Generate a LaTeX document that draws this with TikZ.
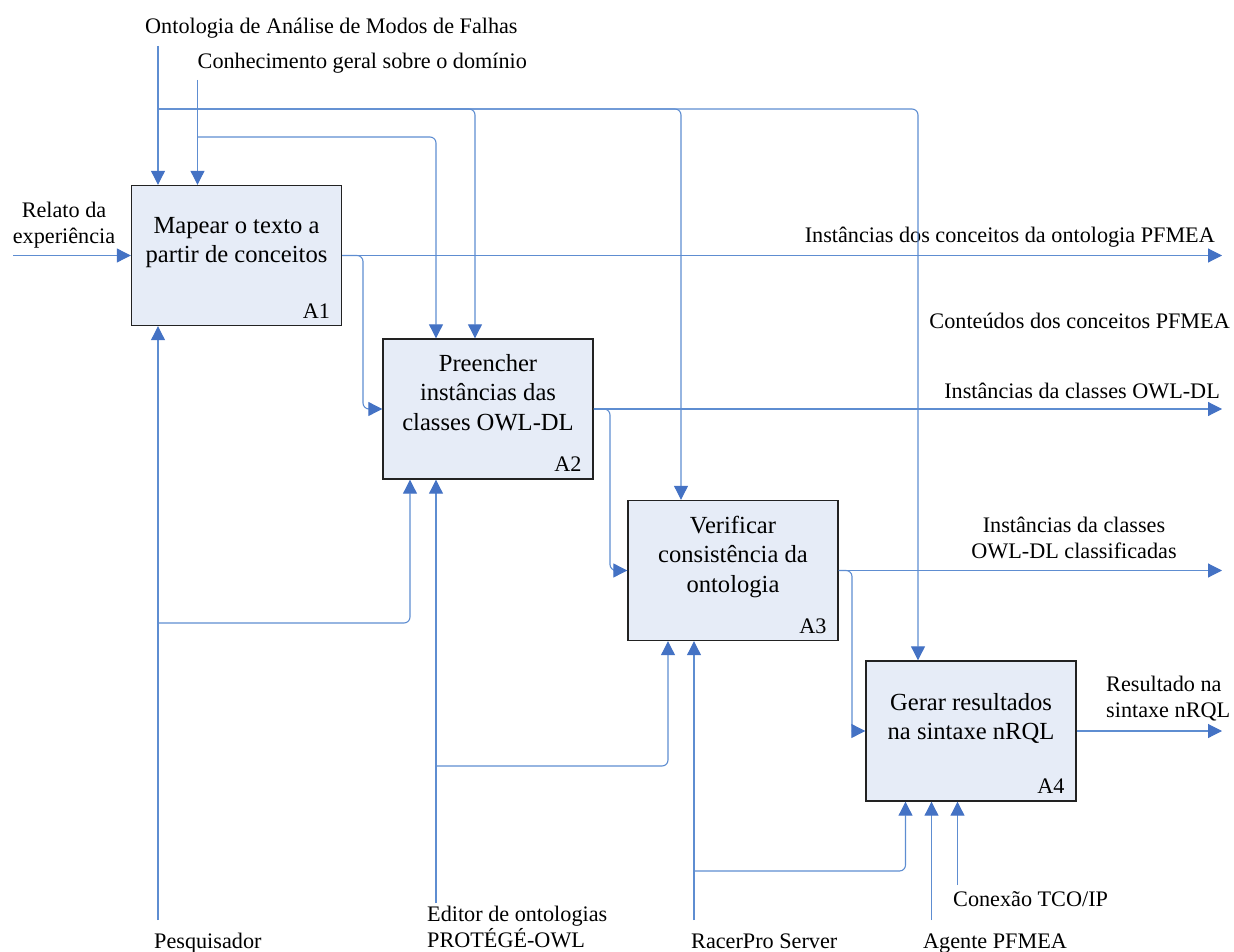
\documentclass[tikz,border=0pt]{standalone}
\usepackage{fontspec}
\setmainfont{Liberation Serif}
\usetikzlibrary{arrows.meta}
\definecolor{flowblue}{HTML}{5E8DD1}
\definecolor{tipblue}{HTML}{4472C4}
\definecolor{boxfill}{HTML}{E6ECF7}
\definecolor{boxline}{HTML}{222222}
\begin{document}
\begin{tikzpicture}[x=1pt,y=-1pt,
  flow/.style={draw=flowblue, line width=1.1pt, rounded corners=6pt,
    -{Triangle[length=14pt,width=14pt,color=tipblue,fill=tipblue]}},
  proc/.style={draw=boxline, fill=boxfill, line width=1.4pt,
    minimum width=210pt, minimum height=140pt, inner sep=0pt},
  boxtext/.style={font=\fontsize{24.6}{29.5}\selectfont, align=center, inner sep=0pt},
  lbl/.style={font=\fontsize{22.2}{26}\selectfont, inner sep=0pt},
  tag/.style={font=\fontsize{22.2}{26}\selectfont, inner sep=0pt, anchor=base east},
]
\useasboundingbox (0,0) rectangle (1234,952);

% boxes
\node[proc] (A1) at (236.5,255.5) {};
\node[proc] (A2) at (488,409) {};
\node[proc] (A3) at (733,570.5) {};
\node[proc] (A4) at (971,731) {};

\node[boxtext] (A1t) at (236.5,242.5) {Mapear o texto a\\partir de conceitos};
\node[boxtext] (A2t) at (488,392.5) {Preencher\\instâncias das\\classes OWL-DL};
\node[boxtext] (A3t) at (733,556.7) {Verificar\\consistência da\\ontologia};
\node[boxtext] (A4t) at (971,718.3) {Gerar resultados\\na sintaxe nRQL};

\node[tag] (A1n) at ([xshift=-12pt,yshift=8pt]A1.south east) {A1};
\node[tag] (A2n) at ([xshift=-12pt,yshift=8pt]A2.south east) {A2};
\node[tag] (A3n) at ([xshift=-12pt,yshift=8pt]A3.south east) {A3};
\node[tag] (A4n) at ([xshift=-12pt,yshift=8pt]A4.south east) {A4};

% labels
\node[lbl, anchor=base west] (ontL) at (145,34) {Ontologia de Análise de Modos de Falhas};
\node[lbl, anchor=base west] (conL) at (197.5,69) {Conhecimento geral sobre o domínio};
\node[lbl, align=center] (relL) at (64,225) {Relato da\\experiência};
\node[lbl, anchor=base east] (o1L) at (1215,243) {Instâncias dos conceitos da ontologia PFMEA};
\node[lbl, anchor=base east] (cPL) at (1230,328) {Conteúdos dos conceitos PFMEA};
\node[lbl, anchor=base east] (o2L) at (1220,398) {Instâncias da classes OWL-DL};
\node[lbl, align=center] (o3L) at (1074,537.5) {Instâncias da classes\\OWL-DL classificadas};
\node[lbl, align=left, anchor=west] (o4L) at (1106,699) {Resultado na\\sintaxe nRQL};
\node[lbl, anchor=base west] (pesL) at (154,948) {Pesquisador};
\node[lbl, align=left, anchor=west] (edL) at (427,927) {Editor de ontologias\\PROTÉGÉ-OWL};
\node[lbl, anchor=base west] (rcL) at (691,948) {RacerPro Server};
\node[lbl, anchor=base west] (agL) at (923,948) {Agente PFMEA};
\node[lbl, anchor=base west] (cxL) at (953,906.7) {Conexão TCO/IP};

% connector end points
\coordinate (ontS) at (158,46);
\coordinate (ontJ) at (158,109);
\coordinate (conS) at (197.5,80);
\coordinate (conJ) at (197.5,137);
\coordinate (relS) at (13,255.5);
\coordinate (o1) at (1222,255.5);
\coordinate (o2) at (1222,409);
\coordinate (o3) at (1222,570.5);
\coordinate (o4) at (1222,731);
\coordinate (pesS) at (158,920);
\coordinate (pesJ) at (158,623);
\coordinate (edS) at (436,903);
\coordinate (edJ) at (436,766);
\coordinate (rcS) at (694,920);
\coordinate (rcJ) at (694,871);
\coordinate (agS) at (931.5,920);
\coordinate (cxS) at (957.5,885);

% controls
\draw[flow] (ontS) -- (ontS |- A1.north);
\draw[flow] (ontJ) -| (475,0 |- A2.north);
\draw[flow] (ontJ) -| (681,0 |- A3.north);
\draw[flow] (ontJ) -| (918,0 |- A4.north);
\draw[flow] (conS) -- (conS |- A1.north);
\draw[flow] (conJ) -| (436,0 |- A2.north);

% inputs / outputs
\draw[flow] (relS) -- (A1.west);
\draw[flow] (A1.east) -- (o1);
\draw[flow] (A1.east) -- (363,255.5) |- (A2.west);
\draw[flow] (A2.east) -- (o2);
\draw[flow] (A2.east) -- (610,409) |- (A3.west);
\draw[flow] (A3.east) -- (o3);
\draw[flow] (A3.east) -- (852,570.5) |- (A4.west);
\draw[flow] (A4.east) -- (o4);

% mechanisms
\draw[flow] (pesS) -- (pesS |- A1.south);
\draw[flow] (pesJ) -| (410,0 |- A2.south);
\draw[flow] (edS) -- (edS |- A2.south);
\draw[flow] (edJ) -| (668,0 |- A3.south);
\draw[flow] (rcS) -- (rcS |- A3.south);
\draw[flow] (rcJ) -| (905.5,0 |- A4.south);
\draw[flow] (agS) -- (agS |- A4.south);
\draw[flow] (cxS) -- (cxS |- A4.south);
\end{tikzpicture}
\end{document}
